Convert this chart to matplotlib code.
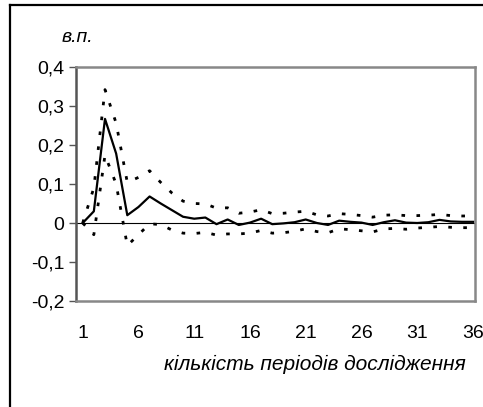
import numpy as np
import matplotlib.pyplot as plt
from matplotlib.lines import Line2D

plt.rcParams['font.family'] = ['Liberation Sans', 'DejaVu Sans']
plt.rcParams['lines.scale_dashes'] = False

#Impulse response and confidence bands
periods = np.arange(1, 37)
response = [0, 0.03, 0.267, 0.178, 0.02, 0.041, 0.068, 0.05, 0.033, 0.016,
            0.011, 0.014, -0.003, 0.009, -0.005, 0.001, 0.011, -0.003, -0.001, 0.002,
            0.009, 0.0, -0.005, 0.006, 0.003, 0.001, -0.005, 0.002, 0.007, 0.001,
            0.0, 0.002, 0.008, 0.004, 0.003, 0.003]
upper = [0, 0.09, 0.342, 0.256, 0.104, 0.117, 0.134, 0.104, 0.077, 0.056,
         0.05, 0.049, 0.038, 0.039, 0.025, 0.028, 0.034, 0.024, 0.025, 0.028,
         0.030, 0.021, 0.018, 0.024, 0.022, 0.019, 0.015, 0.02, 0.021, 0.019,
         0.019, 0.02, 0.022, 0.019, 0.018, 0.018]
lower = [0, -0.03, 0.174, 0.10, -0.058, -0.03, -0.002, -0.004, -0.018, -0.026,
         -0.027, -0.024, -0.031, -0.028, -0.028, -0.026, -0.019, -0.026, -0.025, -0.021,
         -0.015, -0.022, -0.025, -0.015, -0.017, -0.02, -0.023, -0.015, -0.014, -0.016,
         -0.013, -0.011, -0.009, -0.011, -0.012, -0.012]
xticks = [1, 6, 11, 16, 21, 26, 31, 36]
yticks = [-0.2, -0.1, 0, 0.1, 0.2, 0.3, 0.4]
ylabels = ["-0,2", "-0,1", "0", "0,1", "0,2", "0,3", "0,4"]

fig = plt.figure(figsize=(4.83, 4.07), dpi=100)
ax = fig.add_axes([76/483, 106/407, 399/483, 234/407])

#Outer frame, only left and top edges are inside the picture
fx, fy = 10/483, 1 - 5/407
fig.add_artist(Line2D([fx, fx], [0, fy], transform=fig.transFigure, color="black", linewidth=1.6))
fig.add_artist(Line2D([fx, 1], [fy, fy], transform=fig.transFigure, color="black", linewidth=1.6))

ax.axhline(0, color="black", linewidth=0.8, zorder=1)
ax.plot(periods, upper, color="black", linewidth=2.0, dashes=(2.6, 8.2), zorder=2)
ax.plot(periods, lower, color="black", linewidth=2.0, dashes=(2.6, 8.2), zorder=2)
ax.plot(periods, response, color="black", linewidth=1.6, zorder=3)

ax.set_xlim(0.4, 36.18)
ax.set_ylim(-0.2, 0.4)
ax.set_xticks(xticks)
ax.set_yticks(yticks)
ax.set_yticklabels(ylabels)
ax.tick_params(axis="x", length=0, pad=17, labelsize=14)
ax.tick_params(axis="y", length=5, width=1, color="#555555", pad=3.5, labelsize=14)
for side in ["top", "right", "bottom", "left"]:
    ax.spines[side].set_color("#888888")
    ax.spines[side].set_linewidth(1.8)
ax.spines["left"].set_color("#555555")

fig.text(315/483, 1 - 364/407, "кількість періодів дослідження", style="italic",
         fontsize=15, ha="center", va="center")
fig.text(77/483, 1 - 37/407, "в.п.", style="italic", fontsize=14, ha="center", va="center")

plt.savefig("out.png", dpi=100)
